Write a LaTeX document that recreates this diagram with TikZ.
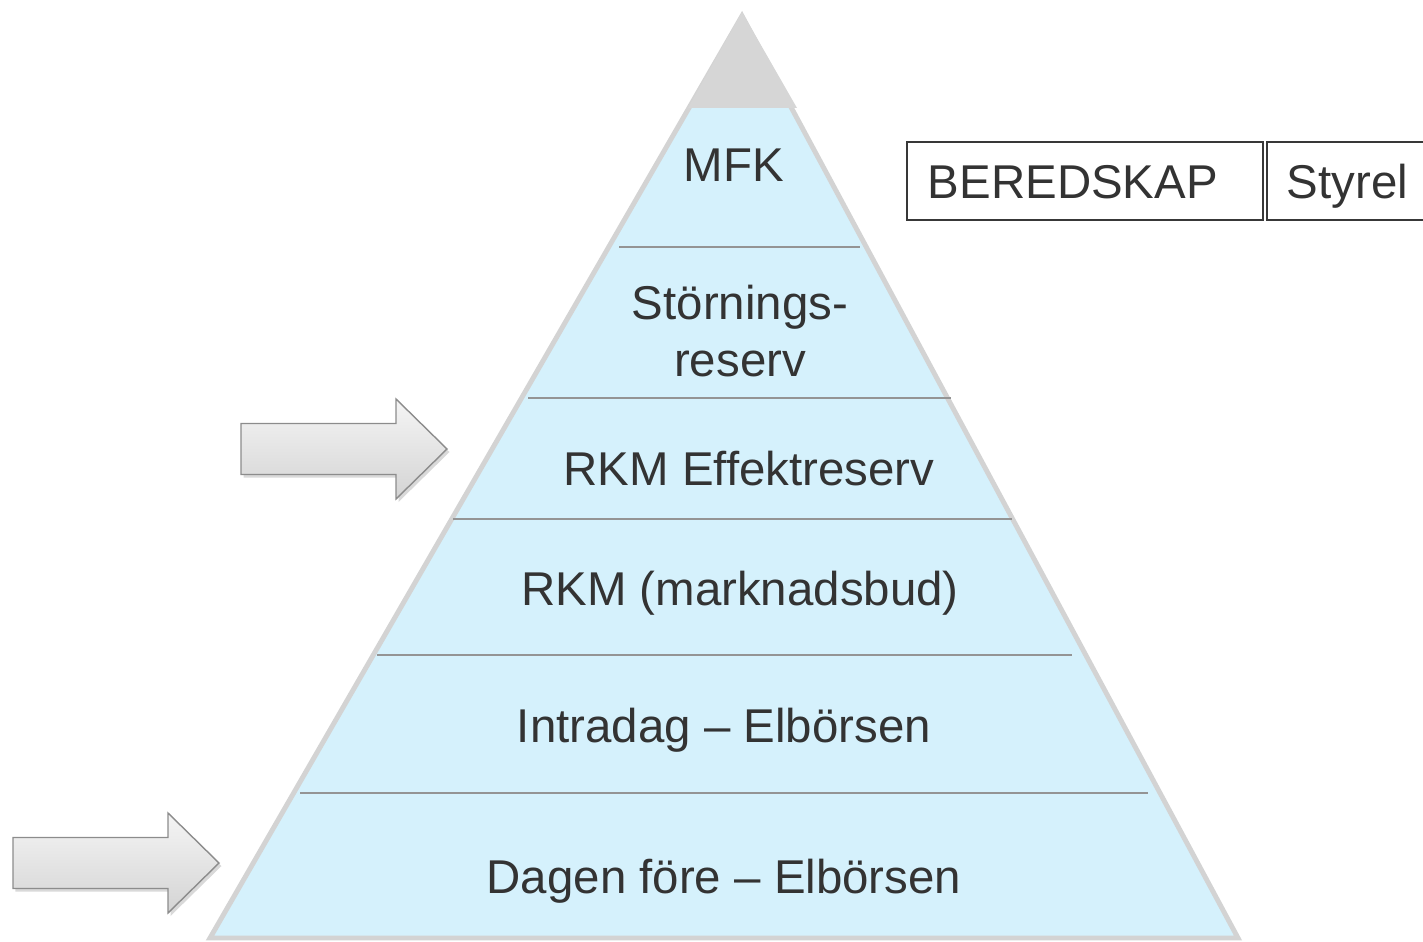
\documentclass[tikz,border=0pt]{standalone}
\usepackage{fontspec}
\setmainfont{Liberation Sans}
\usetikzlibrary{shadows}

\definecolor{skyfill}{HTML}{D5F1FC}
\definecolor{edgegray}{HTML}{D3D3D3}
\definecolor{capgray}{HTML}{D6D6D6}
\definecolor{inkgray}{HTML}{333333}

\begin{document}
\begin{tikzpicture}[
  x=0.02cm, y=-0.02cm,
  shell/.style={fill=skyfill, draw=edgegray, line width=2.8pt, line join=miter},
  divider/.style={line width=1.1pt, draw=black!42},
  tier/.style={font=\fontsize{27}{33}\selectfont, text=inkgray, anchor=base, inner sep=0pt, align=center},
  bigarrow/.style={draw=black!45, line width=0.8pt, top color=black!4, bottom color=black!17,
    drop shadow={opacity=0.3, shadow xshift=0.05cm, shadow yshift=-0.06cm}},
  labelbox/.style={draw=black!78, line width=1pt, font=\fontsize{27}{33}\selectfont, text=inkgray,
    anchor=north west, align=left, minimum height=1.56cm, inner ysep=0pt,
    text height=25.6pt, text depth=5.1pt},
]

% Canvas in pixels of the reference: x right, y down
\useasboundingbox (0,0) rectangle (1423,942);
\clip (0,0) rectangle (1423,942);

% Pyramid body and grey top
\draw[shell] (742,16) -- (1238,938) -- (210,938) -- cycle;
\fill[capgray] (742,12) -- (688,108) -- (797,108) -- cycle;

% Tier dividers
\foreach \y/\xa/\xb in {247/619/860, 398/528/951, 519/453/1012, 655/377/1072, 793/300/1148} {
  \draw[divider] (\xa,\y) -- (\xb,\y);
}

% Tier labels
\node[tier] (mfk) at (734,182) {MFK};
\node[tier] (storning) at (740,377) {Störnings-\\reserv};
\node[tier] (effekt) at (749,485) {RKM Effektreserv};
\node[tier] (marknad) at (740,605) {RKM (marknadsbud)};
\node[tier] (intradag) at (724,742) {Intradag – Elbörsen};
\node[tier] (dagenfore) at (724,893) {Dagen före – Elbörsen};

% Block arrows pointing at the pyramid
\foreach \tx/\ty in {241/449, 13/863} {
  \draw[bigarrow, shift={(\tx,\ty)}]
    (0,-25.5) -- (155,-25.5) -- (155,-50) -- (206,0) -- (155,50) -- (155,25.5) -- (0,25.5) -- cycle;
}

% Boxes on the right
\node[labelbox, minimum width=7.12cm, text width=6.28cm, inner xsep=0.42cm] (beredskap) at (906,141) {BEREDSKAP};
\node[labelbox, minimum width=4.8cm, text width=4cm, inner xsep=0.38cm] (styrel) at (1266,141) {Styrel};

\end{tikzpicture}
\end{document}
